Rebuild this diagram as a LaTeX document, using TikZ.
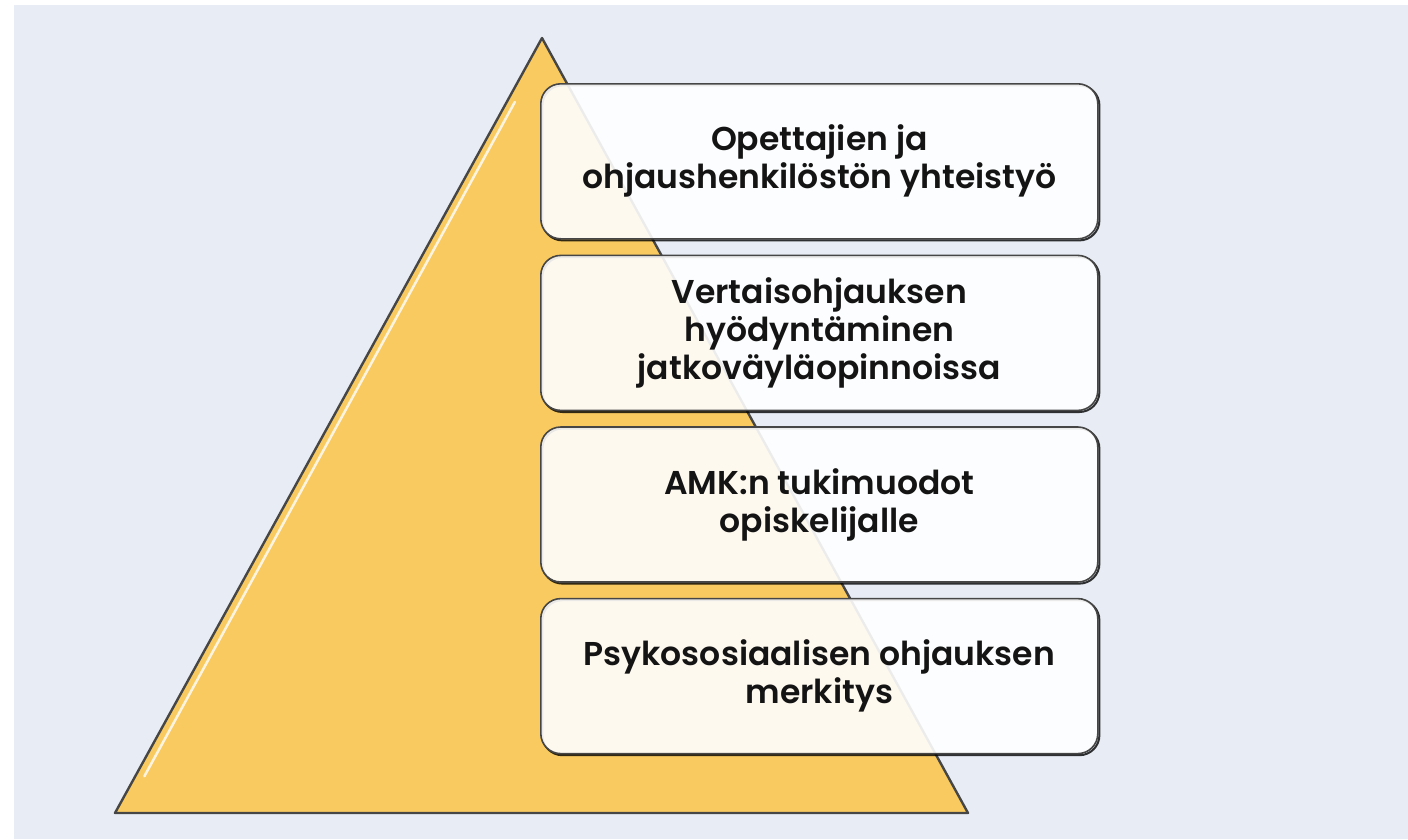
\documentclass[tikz,border=0pt]{standalone}
\usepackage{fontspec}
\setmainfont{Poppins}
\newfontfamily\levelfont{Poppins SemiBold}
\usepackage{tikz}
\usetikzlibrary{%
  positioning,%
  calc,%
  shadows
}
\definecolor{pagebg}{RGB}{232,237,245}
\definecolor{pyramid}{RGB}{249,202,96}
\definecolor{edgegray}{RGB}{70,70,70}
\tikzset{
  level/.style={draw=edgegray,line width=1.6pt,rounded corners=20pt,
    fill=white,fill opacity=0.9,text opacity=1,
    drop shadow={shadow xshift=1.6pt,shadow yshift=-1.6pt,opacity=0.8,
      fill=none,draw=black,line width=2pt},
    minimum width=557pt,minimum height=155pt,align=center,
    font=\fontsize{33}{38}\levelfont,text=black!92},
}

\begin{document}
\begin{tikzpicture}[x=1pt,y=-1pt]
      \useasboundingbox (0,0) rectangle (1408,839);
      \fill [pagebg] (14,5) rectangle (1408,839);
      % the pyramid
      \coordinate (top) at (542,38);
      \coordinate (baseL) at (115,813);
      \coordinate (baseR) at (968,813);
      \draw [draw=edgegray,line width=2.4pt,line join=round,fill=pyramid]
        (top) -- (baseR) -- (baseL) -- cycle;
      \draw [white,line width=2.5pt,opacity=0.8,line cap=round]
        ($(top)!0.08!(baseL)+(7,2)$) -- ($(top)!0.95!(baseL)+(8,2)$);
      % the four levels
      \node [level,anchor=north west] (coop) at (540,83)
        {Opettajien ja\\ohjaushenkilöstön yhteistyö};
      \node [level,below=15pt of coop] (peer)
        {Vertaisohjauksen\\hyödyntäminen\\jatkoväyläopinnoissa};
      \node [level,below=15pt of peer] (support)
        {AMK:n tukimuodot\\opiskelijalle};
      \node [level,below=15pt of support] (psy)
        {Psykososiaalisen ohjauksen\\merkitys};
    \end{tikzpicture}
\end{document}
